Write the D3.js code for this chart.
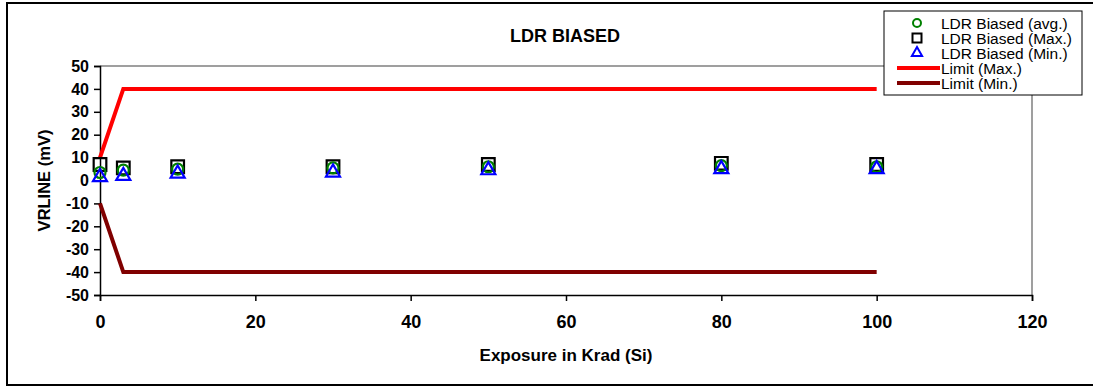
<!DOCTYPE html>
<html>
<head>
<meta charset="utf-8">
<script src="https://cdn.jsdelivr.net/npm/d3@7"></script>
<style>
body { margin: 0; background: #fff; }
text { font-family: Arial, "Liberation Sans", sans-serif; }
</style>
</head>
<body>
<svg id="chart" width="1093" height="387"></svg>
<script>
// DATA
var exposure = [0, 3, 10, 30, 50, 80, 100];
var avgVals  = [3.5, 4.5, 5, 5.5, 6, 6.5, 6];
var maxVals  = [7, 5.5, 6, 6, 7, 7.5, 7];
var minVals  = [1.5, 2, 3, 3.5, 4.5, 5, 5];
var limitX   = [0, 3, 100];
var limitMax = [10, 40, 40];
var limitMin = [-10, -40, -40];
var xTicks = [0, 20, 40, 60, 80, 100, 120];
var yTicks = [-50, -40, -30, -20, -10, 0, 10, 20, 30, 40, 50];

var svg = d3.select('#chart');

// OUTER FRAME
svg.append('rect')
    .attr('x', 7).attr('y', 3)
    .attr('width', 1095).attr('height', 382)
    .attr('fill', 'white').attr('stroke', 'black').attr('stroke-width', 2);

// SCALES
var x = d3.scaleLinear().domain([0, 120]).range([100, 1032]);
var y = d3.scaleLinear().domain([-50, 50]).range([295, 66]);

// PLOT AREA BORDER (gray top/right)
svg.append('path')
    .attr('d', 'M' + x(0) + ',' + y(50) + 'H' + x(120) + 'V' + y(-50))
    .attr('fill', 'none').attr('stroke', '#808080').attr('stroke-width', 1.5);

// AXES (plain hyphen for negatives)
var fmt = function(d) { return String(d); };
var xAxis = svg.append('g')
    .attr('transform', 'translate(0,' + y(-50) + ')')
    .call(d3.axisBottom(x).tickValues(xTicks).tickFormat(fmt).tickSize(6).tickPadding(14));
var yAxis = svg.append('g')
    .attr('transform', 'translate(' + x(0) + ',0)')
    .call(d3.axisLeft(y).tickValues(yTicks).tickFormat(fmt).tickSize(6).tickPadding(5));
[xAxis, yAxis].forEach(function(g) {
    g.attr('font-family', null).attr('font-size', null);
    g.select('.domain').attr('stroke', 'black').attr('stroke-width', 1.5);
    g.selectAll('.tick line').attr('stroke', 'black').attr('stroke-width', 1.5);
    g.selectAll('.tick text')
        .style('font-weight', 'bold').attr('fill', 'black');
});
xAxis.selectAll('.tick text').style('font-size', '18px');
yAxis.selectAll('.tick text').style('font-size', '16px');

// LIMIT LINES
var lineGen = d3.line()
    .x(function(d) { return x(d[0]); })
    .y(function(d) { return y(d[1]); });
svg.append('path')
    .datum(limitX.map(function(v, i) { return [v, limitMax[i]]; }))
    .attr('d', lineGen).attr('fill', 'none')
    .attr('stroke', '#ff0000').attr('stroke-width', 4);
svg.append('path')
    .datum(limitX.map(function(v, i) { return [v, limitMin[i]]; }))
    .attr('d', lineGen).attr('fill', 'none')
    .attr('stroke', '#800000').attr('stroke-width', 4);

// MARKERS
function drawSeries(vals, shape, color, size) {
    svg.append('g').selectAll('path')
        .data(exposure.map(function(v, i) { return [v, vals[i]]; }))
        .enter().append('path')
        .attr('transform', function(d) { return 'translate(' + x(d[0]) + ',' + y(d[1]) + ')'; })
        .attr('d', d3.symbol().type(shape).size(size))
        .attr('fill', 'none').attr('stroke', color).attr('stroke-width', 2.2);
}
drawSeries(maxVals, d3.symbolSquare, 'black', 160);
drawSeries(avgVals, d3.symbolCircle, '#008000', 95);
drawSeries(minVals, d3.symbolTriangle, '#0000ff', 85);

// TITLES
svg.append('text').attr('x', 565).attr('y', 42)
    .attr('text-anchor', 'middle').style('font-size', '18px').style('font-weight', 'bold')
    .text('LDR BIASED');
svg.append('text').attr('x', 566).attr('y', 361)
    .attr('text-anchor', 'middle').style('font-size', '17px').style('font-weight', 'bold')
    .text('Exposure in Krad (Si)');
svg.append('text')
    .attr('transform', 'translate(50,' + y(0) + ') rotate(-90)')
    .attr('text-anchor', 'middle').style('font-size', '16.5px').style('font-weight', 'bold')
    .text('VRLINE (mV)');

// LEGEND
var legendItems = [
    {label: 'LDR Biased (avg.)', kind: 'sym', shape: d3.symbolCircle, color: '#008000', size: 50},
    {label: 'LDR Biased (Max.)', kind: 'sym', shape: d3.symbolSquare, color: 'black', size: 81},
    {label: 'LDR Biased (Min.)', kind: 'sym', shape: d3.symbolTriangle, color: '#0000ff', size: 45},
    {label: 'Limit (Max.)', kind: 'line', color: '#ff0000'},
    {label: 'Limit (Min.)', kind: 'line', color: '#800000'}
];
var leg = svg.append('g');
leg.append('rect').attr('x', 884).attr('y', 11).attr('width', 198).attr('height', 84)
    .attr('fill', 'white').attr('stroke', 'black').attr('stroke-width', 1);
legendItems.forEach(function(d, i) {
    var ly = 23 + i * 15;
    if (d.kind === 'sym') {
        leg.append('path').attr('transform', 'translate(917,' + ly + ')')
            .attr('d', d3.symbol().type(d.shape).size(d.size))
            .attr('fill', 'none').attr('stroke', d.color).attr('stroke-width', 2);
    } else {
        leg.append('line').attr('x1', 897).attr('x2', 940).attr('y1', ly).attr('y2', ly)
            .attr('stroke', d.color).attr('stroke-width', 4);
    }
    leg.append('text').attr('x', 941).attr('y', ly + 5.5)
        .style('font-size', '15.5px').text(d.label);
});
</script>
</body>
</html>
